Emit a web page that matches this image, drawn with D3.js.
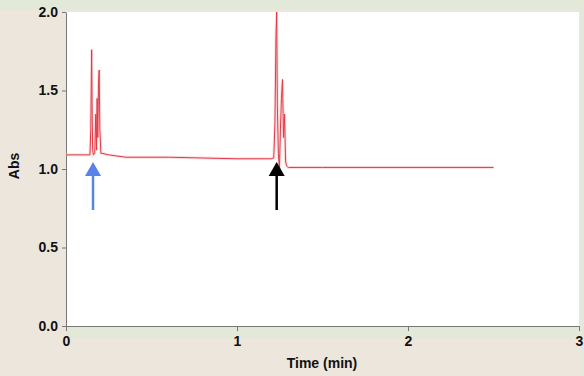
<!DOCTYPE html>
<html>
<head>
<meta charset="utf-8">
<script src="https://cdn.jsdelivr.net/npm/d3@7"></script>
<style>
  body { margin: 0; background: #ece6dc; }
  svg { display: block; }
  text { font-family: Arial, "Liberation Sans", sans-serif; font-weight: bold; fill: #111; }
</style>
</head>
<body>
<div id="container"></div>
<script>
// trace
let time = [0, 0.10, 0.140, 0.145, 0.150, 0.153, 0.156, 0.160, 0.168, 0.174, 0.178, 0.182, 0.186, 0.190, 0.194, 0.198, 0.204, 0.210, 0.25, 0.35, 0.6, 0.8, 1.0, 1.2,
            1.215, 1.222, 1.228, 1.232, 1.236, 1.242, 1.248, 1.254, 1.260, 1.266, 1.272, 1.278, 1.284, 1.290, 1.30, 1.5, 2.0, 2.5];
let absValues = [1.09, 1.09, 1.09, 1.25, 1.76, 1.35, 1.12, 1.09, 1.10, 1.35, 1.12, 1.45, 1.20, 1.55, 1.63, 1.25, 1.10, 1.10, 1.09, 1.075, 1.075, 1.07, 1.065, 1.065,
                 1.07, 1.30, 1.85, 2.0, 1.40, 1.10, 1.00, 1.25, 1.45, 1.57, 1.20, 1.35, 1.05, 1.02, 1.01, 1.01, 1.01, 1.01];
let xTicks = [0, 1, 2, 3];
let yTicks = [0.0, 0.5, 1.0, 1.5, 2.0];
let arrowTimes = [0.158, 1.232];
let arrowColors = ["#5b82e8", "#000000"];

let w = 584;
let h = 376;
let padLeft = 66, padRight = 579, padTop = 12, padBottom = 326;

let viz = d3.select("#container")
  .append("svg")
  .attr("width", w)
  .attr("height", h);

// background bands
viz.append("rect").attr("x", 0).attr("y", 0).attr("width", w).attr("height", h).attr("fill", "#ece6dc");
viz.append("rect").attr("x", 0).attr("y", 0).attr("width", w).attr("height", 10).attr("fill", "#e3e9d8");
viz.append("rect").attr("x", padLeft).attr("y", padBottom).attr("width", padRight - padLeft).attr("height", 12).attr("fill", "#e2e9d8");
viz.append("rect").attr("x", padLeft).attr("y", padTop).attr("width", padRight - padLeft).attr("height", padBottom - padTop).attr("fill", "#ffffff");
viz.append("rect").attr("x", 580).attr("y", 0).attr("width", 4).attr("height", h).attr("fill", "#e3e8da");

let xScale = d3.scaleLinear().domain([0, 3]).range([padLeft, padRight]);
let yScale = d3.scaleLinear().domain([0, 2]).range([padBottom, padTop]);

let xAxis = d3.axisBottom(xScale).tickValues(xTicks).tickFormat(d3.format("d")).tickSize(5).tickSizeOuter(0);
let yAxis = d3.axisLeft(yScale).tickValues(yTicks).tickFormat(d3.format(".1f")).tickSize(4).tickSizeOuter(0);

let xAxisGroup = viz.append("g")
  .attr("transform", "translate(0," + padBottom + ")")
  .call(xAxis);
xAxisGroup.selectAll("text").attr("font-size", 14).attr("dy", "0.85em");

let yAxisGroup = viz.append("g")
  .attr("transform", "translate(" + padLeft + ",0)")
  .call(yAxis);
yAxisGroup.selectAll("text").attr("font-size", 14).attr("dx", "-1px");

viz.selectAll(".domain").attr("stroke", "#777");
viz.selectAll(".tick line").attr("stroke", "#777");

// trace
let points = time.map(function (t, i) { return [t, absValues[i]]; });
let line = d3.line()
  .x(function (d) { return xScale(d[0]); })
  .y(function (d) { return yScale(d[1]); });

viz.append("path")
  .datum(points)
  .attr("fill", "none")
  .attr("stroke", "#f7c0c3")
  .attr("stroke-width", 3)
  .attr("opacity", 0.5)
  .attr("d", line);
viz.append("path")
  .datum(points)
  .attr("fill", "none")
  .attr("stroke", "#e23a46")
  .attr("stroke-width", 1)
  .attr("d", line);

// arrows
arrowTimes.forEach(function (t, i) {
  let ax = xScale(t);
  let tipY = yScale(1.0) - 7;
  let g = viz.append("g");
  g.append("line")
    .attr("x1", ax).attr("x2", ax)
    .attr("y1", tipY + 8).attr("y2", tipY + 48)
    .attr("stroke", arrowColors[i]).attr("stroke-width", 2.5);
  g.append("path")
    .attr("d", "M" + (ax - 8) + "," + (tipY + 14) + " L" + ax + "," + tipY + " L" + (ax + 8) + "," + (tipY + 14) + " Z")
    .attr("fill", arrowColors[i]);
});

// axis titles
viz.append("text")
  .attr("x", 322).attr("y", 368)
  .attr("text-anchor", "middle")
  .attr("font-size", 14)
  .text("Time (min)");
viz.append("text")
  .attr("transform", "translate(19,166) rotate(-90)")
  .attr("text-anchor", "middle")
  .attr("font-size", 14)
  .text("Abs");
</script>
</body>
</html>
